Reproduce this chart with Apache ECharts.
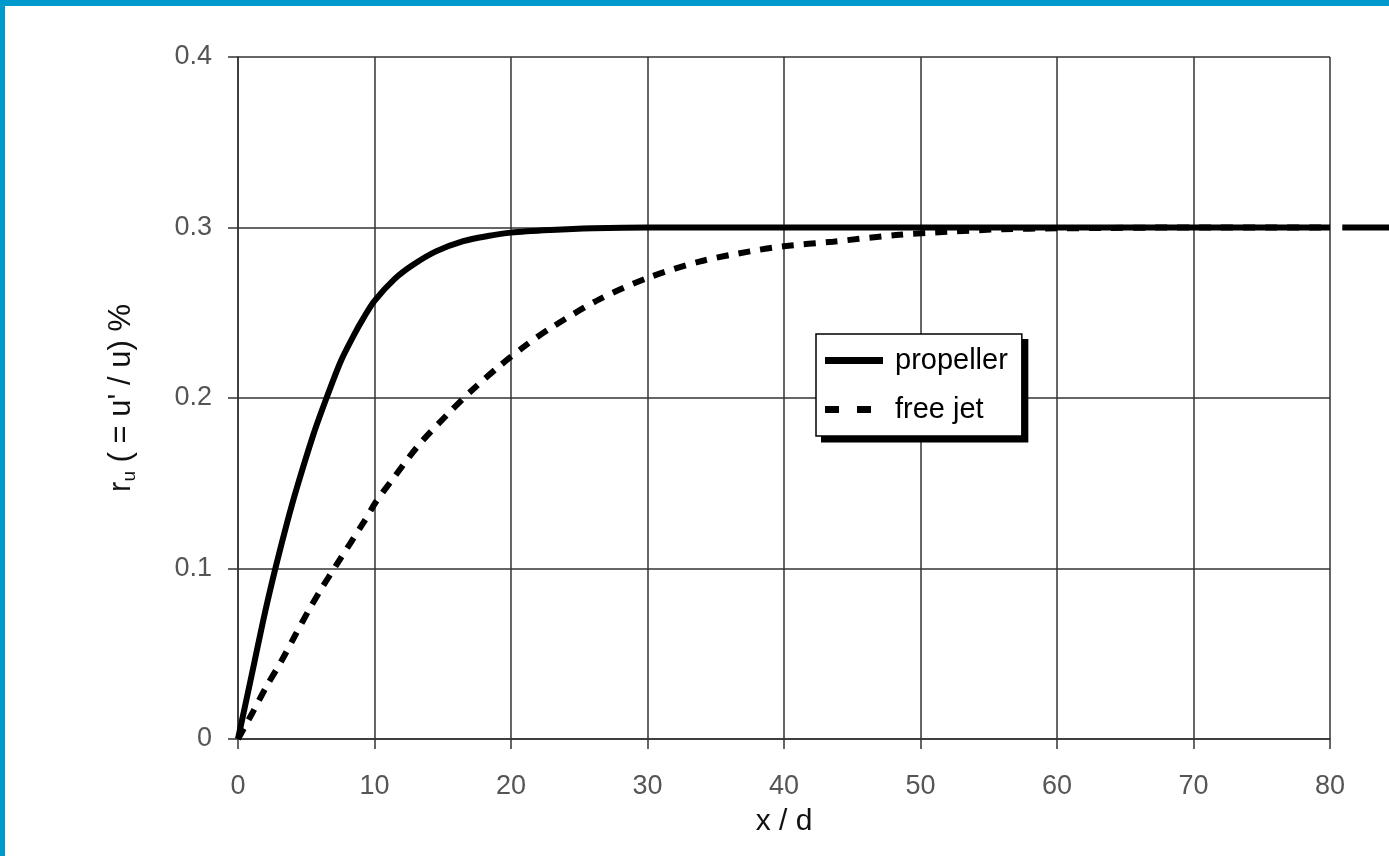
<!DOCTYPE html>
<html>
<head>
<meta charset="utf-8">
<script src="https://cdn.jsdelivr.net/npm/echarts@6/dist/echarts.min.js"></script>
<style>
  html, body { margin: 0; padding: 0; background: #ffffff; }
  #chart { position: absolute; left: 0; top: 0; width: 1389px; height: 856px; }
  .bt { position: absolute; left: 0; top: 0; width: 1389px; height: 6px; background: #0099cc; z-index: 5; }
  .bl { position: absolute; left: 0; top: 0; width: 5px; height: 856px; background: #0099cc; z-index: 5; }
</style>
</head>
<body>
<div id="chart"></div>
<div class="bt"></div>
<div class="bl"></div>
<script>
// ---- data ----
const propellerX = [0, 1.2, 2.0, 2.8, 3.6, 4.3, 5.5, 6.3, 7.5, 8.5, 9.2, 10, 11.5, 12.8, 14.5, 16.5, 18.3, 20, 22.9, 26, 30, 40, 50, 60, 70, 80];
const propellerY = [0, 0.045, 0.075, 0.102, 0.127, 0.147, 0.178, 0.196, 0.221, 0.237, 0.247, 0.257, 0.27, 0.278, 0.286, 0.292, 0.295, 0.297, 0.2985, 0.2995, 0.3, 0.3, 0.3, 0.3, 0.3, 0.3];
const freeJetX = [0, 1.1, 2.1, 3.2, 4.2, 5.15, 6.1, 7.2, 9.2, 10.1, 11.2, 13.2, 15.3, 17.2, 19.2, 21.1, 22.9, 26.5, 30.2, 33.8, 37.5, 40, 43.6, 48.2, 52, 56, 60, 70, 80];
const freeJetY = [0, 0.016, 0.031, 0.046, 0.061, 0.075, 0.088, 0.102, 0.127, 0.139, 0.151, 0.172, 0.19, 0.205, 0.219, 0.231, 0.241, 0.258, 0.271, 0.28, 0.286, 0.289, 0.2917, 0.2956, 0.2975, 0.299, 0.2995, 0.3, 0.3];
// the propeller line continues past the right edge of the plot
const outsideX = [80.9, 86];
const outsideY = [0.3, 0.3];
const seriesNames = ['propeller', 'free jet'];
const xTicks = { min: 0, max: 80, interval: 10 };
const yTicks = { min: 0, max: 0.4, interval: 0.1 };

const zip = (xs, ys) => xs.map((x, i) => [x, ys[i]]);
const FONT = '"Liberation Sans", Arial, sans-serif';

const chart = echarts.init(document.getElementById('chart'), null, { renderer: 'canvas' });
const legendLeft = 816, legendTop = 334;
chart.setOption({
  backgroundColor: '#ffffff',
  animation: false,
  grid: { left: 238, right: 59, top: 57, bottom: 117 },
  legend: {
    orient: 'vertical',
    left: legendLeft, top: legendTop,
    padding: [12, 14, 12, 9],
    itemGap: 20,
    itemWidth: 58, itemHeight: 7,
    symbolKeepAspect: true,
    backgroundColor: '#ffffff',
    borderColor: '#000000', borderWidth: 1.5, borderRadius: 0,
    textStyle: { fontFamily: FONT, fontSize: 29, color: '#000', padding: [0, 0, 0, 7] },
    data: [
      { name: seriesNames[0], icon: 'path://M0,0H58V7H0Z' },
      { name: seriesNames[1], icon: 'path://M0,0H14V7H0Z M32,0H46V7H32Z M58,0L58,7Z' }
    ],
    z: 5
  },
  xAxis: {
    type: 'value', min: xTicks.min, max: xTicks.max, interval: xTicks.interval,
    name: 'x / d', nameLocation: 'middle', nameGap: 68,
    nameTextStyle: { fontFamily: FONT, fontSize: 30, color: '#111' },
    axisLine: { show: true, onZero: false, lineStyle: { color: '#333', width: 1.5 } },
    axisTick: { show: true, inside: false, length: 10, lineStyle: { color: '#333', width: 1.5 } },
    axisLabel: { fontFamily: FONT, fontSize: 27, color: '#555', margin: 34 },
    splitLine: { show: true, lineStyle: { color: '#333', width: 1.5 } }
  },
  yAxis: {
    type: 'value', min: yTicks.min, max: yTicks.max, interval: yTicks.interval,
    name: '{m|r}{s|u}{m| ( = u\' / u) %}', nameLocation: 'middle', nameGap: 99, nameRotate: 90,
    nameTextStyle: {
      fontFamily: FONT, fontSize: 31, color: '#111',
      rich: {
        m: { fontFamily: FONT, fontSize: 31, color: '#111' },
        s: { fontFamily: FONT, fontSize: 19, color: '#111', padding: [16, 0, 0, 0] }
      }
    },
    axisLine: { show: true, onZero: false, lineStyle: { color: '#333', width: 1.5 } },
    axisTick: { show: true, inside: false, length: 10, lineStyle: { color: '#333', width: 1.5 } },
    axisLabel: { fontFamily: FONT, fontSize: 27, color: '#555', margin: 26 },
    splitLine: { show: true, lineStyle: { color: '#333', width: 1.5 } }
  },
  series: [
    {
      name: seriesNames[0], type: 'line', data: zip(propellerX, propellerY),
      smooth: 0.3, showSymbol: false, symbol: 'none',
      lineStyle: { color: '#000', width: 6 }, itemStyle: { color: '#000' }, z: 3
    },
    {
      name: seriesNames[1], type: 'line', data: zip(freeJetX, freeJetY),
      smooth: 0.3, showSymbol: false, symbol: 'none',
      lineStyle: { color: '#000', width: 6, type: [12, 10] }, itemStyle: { color: '#000' }, z: 3
    }
  ]
});

// legend drop shadow + the segment past the plot edge, positioned through the chart's own scales
const p1 = chart.convertToPixel({ gridIndex: 0 }, [outsideX[0], outsideY[0]]);
const p2 = chart.convertToPixel({ gridIndex: 0 }, [outsideX[1], outsideY[1]]);
let lw = 206, lh = 103;
try {
  const view = chart._componentsMap && Object.values(chart._componentsMap).find(v => v.type === 'legend.plain');
  if (view) { const r = view.group.getBoundingRect(); lw = r.width; lh = r.height; }
} catch (e) {}
chart.setOption({
  graphic: [
    { type: 'rect', left: legendLeft + 5, top: legendTop + 5, shape: { width: lw, height: lh }, style: { fill: '#000' }, z: 4 },
    { type: 'line', shape: { x1: p1[0], y1: p1[1], x2: p2[0], y2: p2[1] }, style: { stroke: '#000', lineWidth: 6 }, z: 3 }
  ]
});
</script>
</body>
</html>
